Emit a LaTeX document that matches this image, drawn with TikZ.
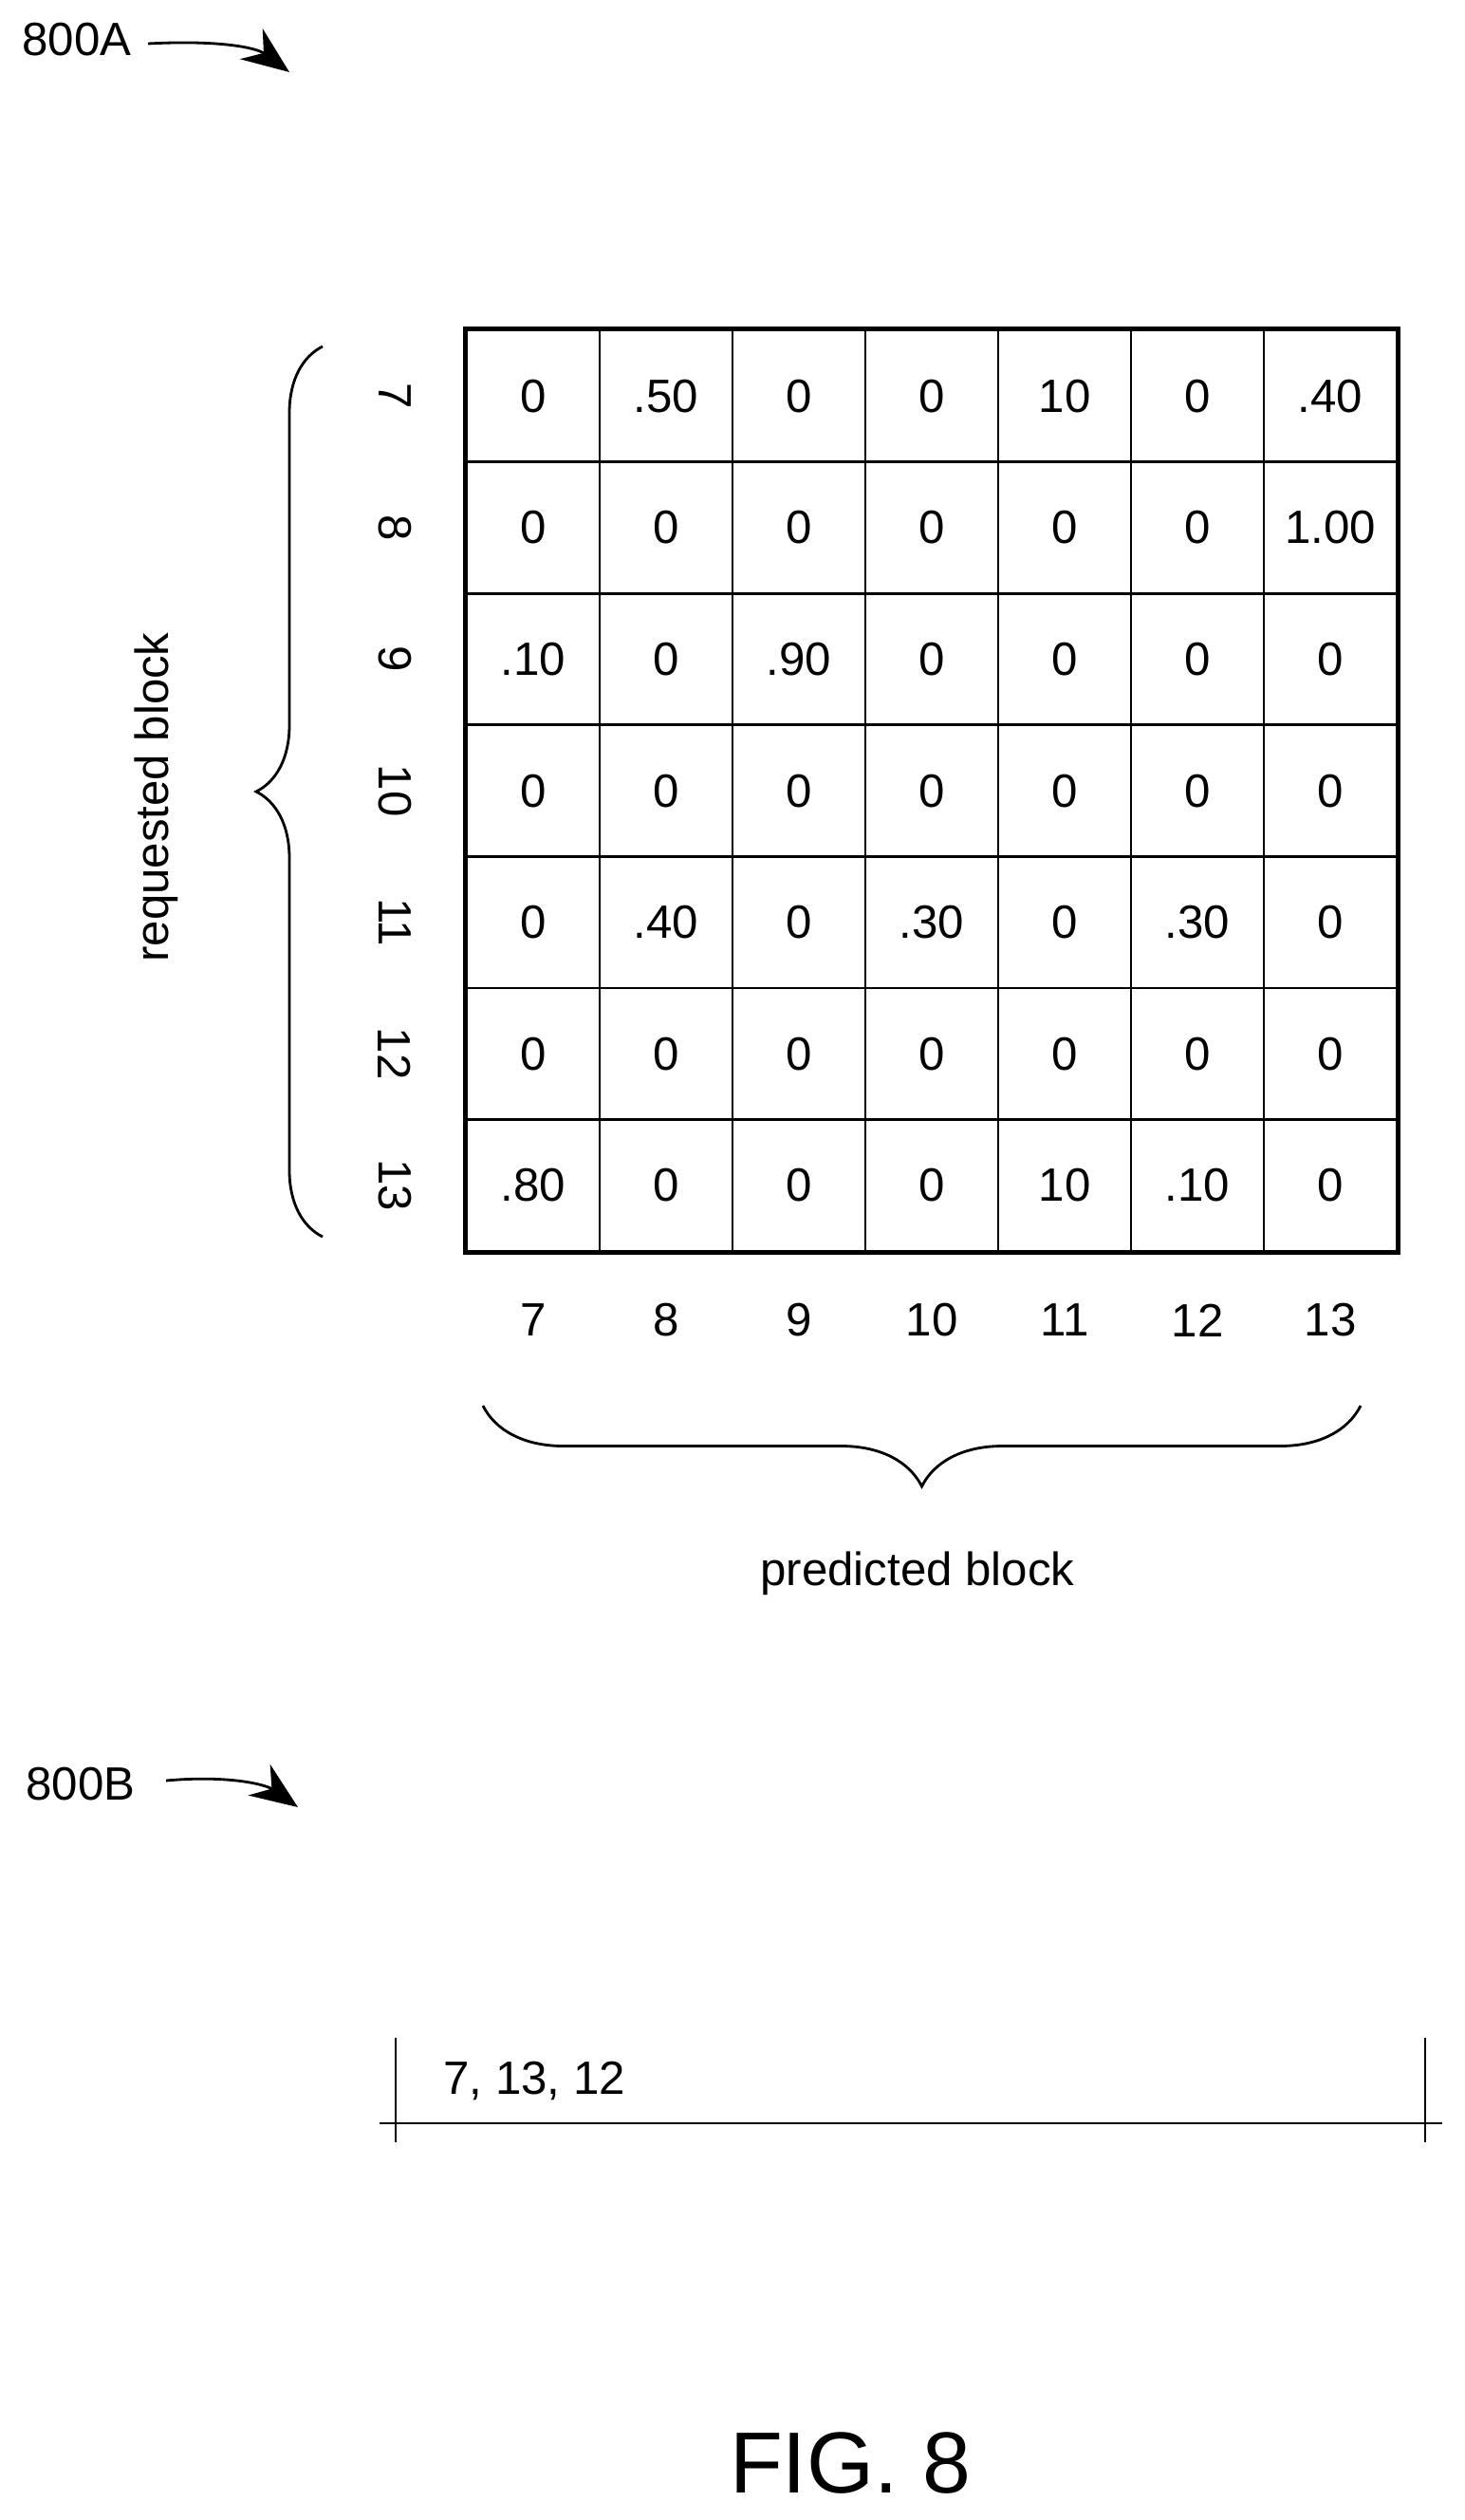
\documentclass[tikz,border=0pt]{standalone}
\usepackage{fontspec}
\setmainfont{Liberation Sans}
\usetikzlibrary{arrows.meta,positioning,decorations.pathreplacing,calc}
\tikzset{
  cell/.style = {draw, thick, minimum width=1.40cm, minimum height=1.386cm, inner sep=0pt, font=\fontsize{14}{16}\selectfont},
  lbl/.style  = {font=\fontsize{14}{16}\selectfont},
  refarrow/.style = {thick, -{Stealth[length=5mm,width=4mm]}},
  bigbrace/.style = {decorate, decoration={brace,amplitude=#1}, thick}
}
\begin{document}
\begin{tikzpicture}[x=1cm,y=1cm]
  \useasboundingbox (0,0) rectangle (15.44,-26.55);
  % reference numeral 800A
  \node[lbl] (ref800a) at (0.81,-0.42) {800A};
  \coordinate (a800end) at (3.05,-0.76);
  \draw[refarrow] (1.56,-0.46) .. controls (2.3,-0.42) and (2.7,-0.5) .. (a800end);
  % matrix of probabilities
  \foreach \r/\row in {0/{0,.50,0,0,10,0,.40},1/{0,0,0,0,0,0,1.00},2/{.10,0,.90,0,0,0,0},3/{0,0,0,0,0,0,0},4/{0,.40,0,.30,0,.30,0},5/{0,0,0,0,0,0,0},6/{.80,0,0,0,10,.10,0}}{
    \foreach \v [count=\c from 0] in \row {
      \node[cell] (m-\r-\c) at ({4.92+1.40*(\c+0.5)},{-3.48-1.386*(\r+0.5)}) {\v};
    }
  }
  \draw[very thick] (m-0-0.north west) rectangle (m-6-6.south east);
  % row and column labels
  \foreach \n [count=\i from 0] in {7,8,9,10,11,12,13}{
    \node[lbl, rotate=-90] (rl-\i) at (4.16,{-3.48-1.386*(\i+0.5)}) {\n};
    \node[lbl] (cl-\i) at ({4.92+1.40*(\i+0.5)},-13.91) {\n};
  }
  % braces
  \draw[bigbrace=0.7cm] (3.40,-13.03) -- (3.40,-3.65);
  \node[lbl, rotate=90] (reqblk) at (1.65,-8.40) {requested block};
  \draw[bigbrace=0.85cm] (14.34,-14.81) -- (5.09,-14.81);
  \node[lbl] (predblk) at (9.67,-16.58) {predicted block};
  % reference numeral 800B
  \node[lbl] (ref800b) at (0.85,-18.80) {800B};
  \coordinate (b800end) at (3.14,-19.04);
  \draw[refarrow] (1.75,-18.76) .. controls (2.4,-18.7) and (2.8,-18.8) .. (b800end);
  % list line
  \draw[thick] (4.00,-22.37) -- (15.20,-22.37);
  \draw[thick] (4.17,-21.47) -- (4.17,-22.57);
  \draw[thick] (15.02,-21.47) -- (15.02,-22.57);
  \node[lbl, anchor=west] (lst) at (4.55,-21.92) {7, 13, 12};
  % figure caption
  \node[font=\fontsize{26}{28}\selectfont] (fig) at (8.96,-25.95) {FIG. 8};
\end{tikzpicture}
\end{document}
